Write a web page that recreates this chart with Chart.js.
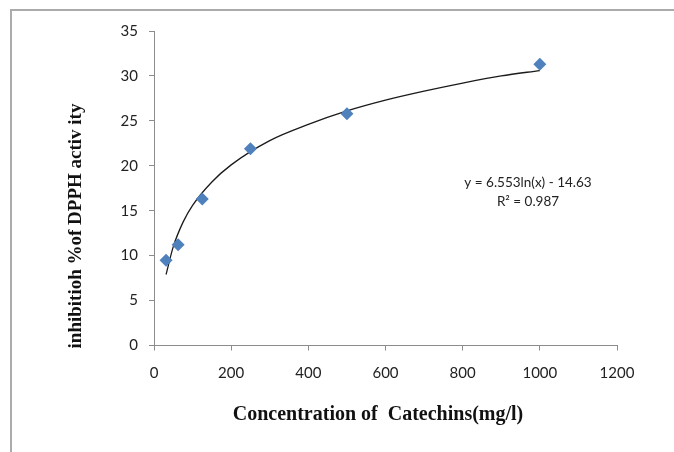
<!DOCTYPE html>
<html>
<head>
<meta charset="utf-8">
<script src="https://cdn.jsdelivr.net/npm/chart.js@4"></script>
<style>
  body { margin: 0; background: #fff; }
</style>
</head>
<body>
<canvas id="chart" width="674" height="452"></canvas>
<script>
// measured points
const concentrations = [31.25, 62.5, 125, 250, 500, 1000];
const inhibition = [9.5, 11.2, 16.3, 21.9, 25.8, 31.3];

// log trendline, values
const trendX = [31.25, 50, 75, 100, 150, 200, 300, 400, 500, 600, 700, 800, 900, 1000];
const trendY = [7.9, 11.0, 13.7, 15.6, 18.2, 20.1, 22.8, 24.6, 26.1, 27.3, 28.3, 29.2, 30.0, 30.6];

const xTicks = [0, 200, 400, 600, 800, 1000, 1200];
const yTicks = [0, 5, 10, 15, 20, 25, 30, 35];

const xTitle = 'Concentration of  Catechins(mg/l)';
const yTitle = 'inhibitioh %of DPPH activ ity';
const equation = ['y = 6.553ln(x) - 14.63', 'R\u00b2 = 0.987'];

const axisGray = '#8c8c8c';
const tickFont = { family: 'Lato', size: 15 };

const decorations = {
  id: 'decorations',
  afterDraw(chart) {
    const ctx = chart.ctx;
    ctx.save();
    // outer frame (top and left edges)
    ctx.strokeStyle = '#ababab';
    ctx.lineWidth = 2;
    ctx.beginPath();
    ctx.moveTo(11, 452);
    ctx.lineTo(11, 10);
    ctx.lineTo(674, 10);
    ctx.stroke();

    // axis titles
    ctx.fillStyle = '#111';
    ctx.textAlign = 'center';
    ctx.textBaseline = 'middle';
    ctx.font = 'bold 20px "Liberation Serif"';
    ctx.fillText(xTitle, 378, 415);
    ctx.font = 'bold 19px "Liberation Serif"';
    ctx.translate(76, 226);
    ctx.rotate(-Math.PI / 2);
    ctx.fillText(yTitle, 0, 0);
    ctx.restore();

    // trendline label
    ctx.save();
    ctx.fillStyle = '#222';
    ctx.font = '13.5px Lato';
    ctx.textAlign = 'center';
    ctx.textBaseline = 'middle';
    ctx.fillText(equation[0], 528, 183);
    ctx.fillText(equation[1], 528, 202);
    ctx.restore();
  }
};

new Chart(document.getElementById('chart'), {
  type: 'scatter',
  data: {
    datasets: [{
      label: 'Trend',
      data: trendX.map((x, i) => ({ x: x, y: trendY[i] })),
      showLine: true,
      borderColor: '#1a1a1a',
      borderWidth: 1.3,
      pointRadius: 0,
      cubicInterpolationMode: 'monotone',
      fill: false,
      order: 2
    }, {
      label: 'Inhibition',
      data: concentrations.map((x, i) => ({ x: x, y: inhibition[i] })),
      pointStyle: 'rectRot',
      pointRadius: 6.5,
      backgroundColor: '#4f81bd',
      borderColor: '#4f81bd',
      borderWidth: 0,
      order: 1
    }]
  },
  options: {
    responsive: false,
    animation: false,
    layout: { padding: { left: 0, top: 31, right: 57, bottom: 0 } },
    plugins: {
      legend: { display: false },
      tooltip: { enabled: false }
    },
    scales: {
      x: {
        type: 'linear',
        min: 0,
        max: 1200,
        afterBuildTicks: s => { s.ticks = xTicks.map(v => ({ value: v })); },
        afterFit: s => { s.height = 106.5; },
        ticks: { font: tickFont, color: '#222', padding: 14, callback: v => String(v) },
        grid: { drawOnChartArea: false, tickLength: 5, color: axisGray },
        border: { color: axisGray, width: 1 }
      },
      y: {
        min: 0,
        max: 35,
        afterBuildTicks: s => { s.ticks = yTicks.map(v => ({ value: v })); },
        afterFit: s => { s.width = 154; },
        ticks: { font: tickFont, color: '#222', padding: 11, callback: v => String(v) },
        grid: { drawOnChartArea: false, tickLength: 5, color: axisGray },
        border: { color: axisGray, width: 1 }
      }
    }
  },
  plugins: [decorations]
});
</script>
</body>
</html>
